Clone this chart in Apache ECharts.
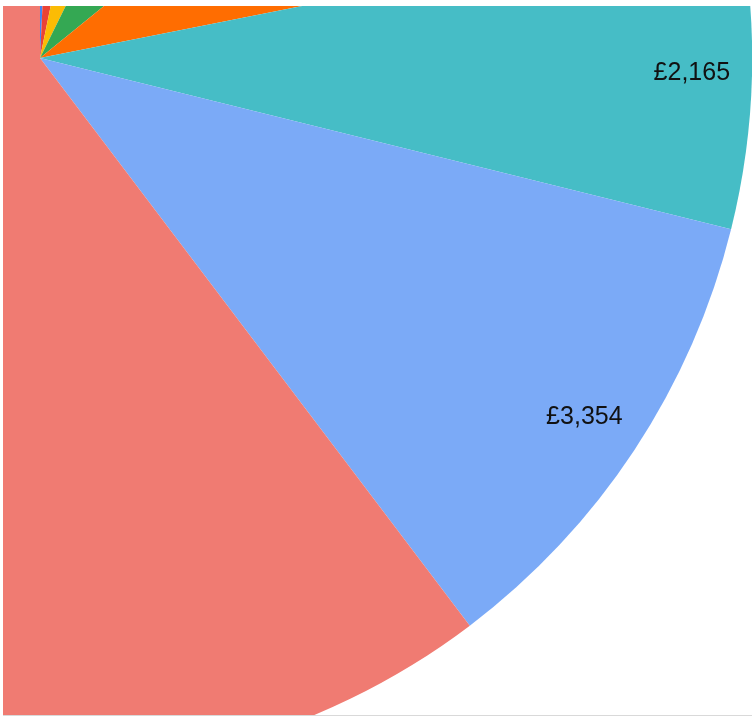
<!DOCTYPE html>
<html>
<head>
<meta charset="utf-8">
<script src="https://cdn.jsdelivr.net/npm/echarts@6/dist/echarts.min.js"></script>
<style>
  html, body { margin: 0; padding: 0; background: #ffffff; }
  #chart { position: absolute; left: 3px; top: 6px; width: 749px; height: 709px; border-bottom: 1px solid #d9d9d9; }
</style>
</head>
<body>
<div id="chart"></div>
<script>
const categories = ['Item A', 'Item B', 'Item C', 'Item D', 'Item E', 'Item F', 'Item G', 'Item H'];
const values = [237, 762, 1266, 2118, 2402, 2165, 3354, 18700];
const colors = ['#4285F4', '#EA4335', '#FBBC04', '#34A853', '#FF6D01', '#46BDC6', '#7BAAF7', '#F07B72'];

const chart = echarts.init(document.getElementById('chart'), null, { renderer: 'canvas' });
const pieData = categories.map((c, i) => ({ name: c, value: values[i], itemStyle: { color: colors[i] } }));
const labelData = categories.map((c, i) => ({ name: c, value: values[i] }));
const R = 712;
chart.setOption({
  animation: false,
  series: [
    {
      type: 'pie',
      center: [37, 52],
      radius: [0, R],
      startAngle: 90,
      clockwise: true,
      avoidLabelOverlap: false,
      label: { show: false },
      labelLine: { show: false },
      emphasis: { disabled: true },
      itemStyle: { borderWidth: 0 },
      data: pieData
    },
    {
      type: 'pie',
      center: [37, 52],
      radius: [586, R],
      startAngle: 90,
      clockwise: true,
      silent: true,
      avoidLabelOverlap: false,
      itemStyle: { color: 'rgba(0,0,0,0)', borderWidth: 0 },
      label: {
        show: true,
        position: 'inside',
        color: '#111',
        fontFamily: 'Liberation Sans, Arial, sans-serif',
        fontSize: 25,
        formatter: p => '£' + p.value.toLocaleString('en-GB')
      },
      labelLine: { show: false },
      emphasis: { disabled: true },
      data: labelData
    }
  ]
});
</script>
</body>
</html>
